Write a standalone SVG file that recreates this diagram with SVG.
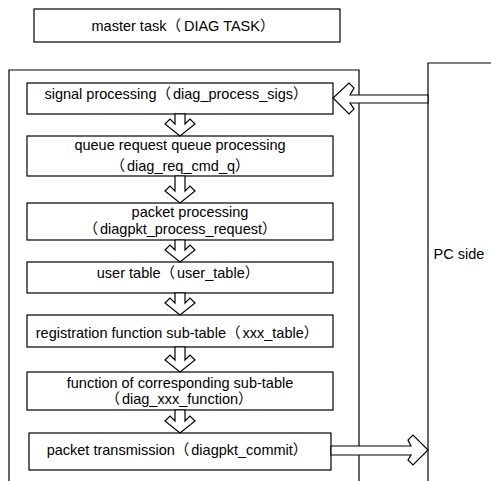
<svg xmlns="http://www.w3.org/2000/svg" width="491" height="481" viewBox="0 0 491 481">
<style>
.b{fill:#fff;stroke:#000;stroke-width:1.2}
.l{fill:none;stroke:#000;stroke-width:1.2}
.a{fill:#fff;stroke:#000;stroke-width:1.2;stroke-linejoin:miter}
text{font-family:"Liberation Sans","Noto Sans CJK SC",Arial,sans-serif;font-size:14.5px;fill:#000;text-anchor:middle}
</style>
<rect width="491" height="481" fill="#fff"/>
<g id="master"><rect class="b" x="34" y="9" width="306" height="33"/><text x="183" y="31">master task（<tspan dx="3">DIAG  TASK</tspan>）</text></g>
<g id="outer"><path class="l" d="M9,481 V70 H359 V481"/></g>
<g id="pc"><path class="l" d="M428,481 V63 H491"/><text x="459" y="259">PC side</text></g>
<g id="n1"><rect class="b" x="27" y="83" width="306" height="31"/><text x="176" y="99">signal processing（<tspan dx="2">diag_process_sigs</tspan>）</text></g>
<g id="n2"><rect class="b" x="27" y="136" width="306" height="40"/><text x="180" y="150">queue request queue processing</text><text x="180" y="171">（<tspan dx="2">diag_req_cmd_q</tspan>）</text></g>
<g id="n3"><rect class="b" x="27" y="203" width="306" height="37"/><text x="190" y="217">packet processing</text><text x="180" y="234">（<tspan dx="2">diagpkt_process_request</tspan>）</text></g>
<g id="n4"><rect class="b" x="27" y="262" width="306" height="31"/><text x="178" y="278">user table（<tspan dx="2">user_table</tspan>）</text></g>
<g id="n5"><rect class="b" x="27" y="315" width="306" height="32"/><text x="177" y="338">registration function sub-table（<tspan dx="2">xxx_table</tspan>）</text></g>
<g id="n6"><rect class="b" x="27" y="372" width="306" height="38"/><text x="180" y="388">function of corresponding sub-table</text><text x="179" y="404">（<tspan dx="2">diag_xxx_function</tspan>）</text></g>
<g id="n7"><rect class="b" x="29" y="433" width="302" height="37"/><text x="177" y="455">packet transmission（<tspan dx="2">diagpkt_commit</tspan>）</text></g>
<g id="connectors">
<polygon class="a" points="175,114 185,114 185,124 190,119 195,124 180,136 165,124 170,119 175,124"/>
<polygon class="a" points="175,176 185,176 185,191 190,186 195,191 180,203 165,191 170,186 175,191"/>
<polygon class="a" points="175,240 185,240 185,250 190,245 195,250 180,262 165,250 170,245 175,250"/>
<polygon class="a" points="175,293 185,293 185,303 190,298 195,303 180,315 165,303 170,298 175,303"/>
<polygon class="a" points="175,347 185,347 185,360 190,355 195,360 180,372 165,360 170,355 175,360"/>
<polygon class="a" points="175,410 185,410 185,421 190,416 195,421 180,433 165,421 170,416 175,421"/>
<polygon class="a" points="428,95 428,103 350,103 354,109 349,114 333,98 349,83 354,88 350,95"/>
<polygon class="a" points="331,446 411,446 408,440 413,435 428,450 413,465 408,460 411,455 331,455"/>
</g>
</svg>
